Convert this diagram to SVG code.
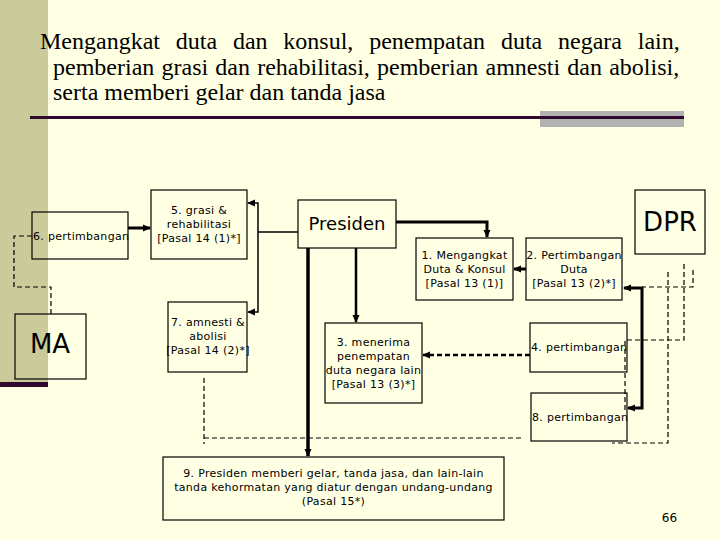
<svg xmlns="http://www.w3.org/2000/svg" width="720" height="540" viewBox="0 0 720 540">
<style>
.title{font-family:"Liberation Serif","Times New Roman",serif;font-size:24px;fill:#000}
.box{fill:none;stroke:#000;stroke-width:1.2}
.t{font-family:"DejaVu Sans",Verdana,sans-serif;font-size:11px;letter-spacing:0.3px;fill:#000}
.c{text-anchor:middle}
.big{font-family:"DejaVu Sans",Verdana,sans-serif;fill:#000;text-anchor:middle}
.ln{fill:none;stroke:#000}
.dash{fill:none;stroke:#000;stroke-width:1.2;stroke-dasharray:5 3}
</style>
<defs>
<marker id="ah" markerUnits="userSpaceOnUse" markerWidth="8" markerHeight="8" refX="7" refY="4" orient="auto-start-reverse">
<path d="M0,0.5 L8,4 L0,7.5 z" fill="#000"/>
</marker>
</defs>
<rect x="0" y="0" width="720" height="540" fill="#FFFFE4"/>
<rect x="0" y="0" width="48" height="382" fill="#CBCA9A"/>
<rect x="0" y="382" width="48" height="5" fill="#2E0B2E"/>
<rect x="540" y="111" width="144" height="16" fill="#B2B2B2"/>
<line x1="30" y1="117.5" x2="684" y2="117.5" stroke="#2E0B2E" stroke-width="3"/>
<g id="title">
<text class="title" x="40" y="49" word-spacing="9.8">Mengangkat duta dan konsul, penempatan duta negara lain,</text>
<text class="title" x="53" y="75" word-spacing="1.2">pemberian grasi dan rehabilitasi, pemberian amnesti dan abolisi,</text>
<text class="title" x="53" y="100">serta memberi gelar dan tanda jasa</text>
</g>
<g id="connectors">
<path class="ln" stroke-width="3" d="M128,228 L150,228" marker-end="url(#ah)"/>
<path class="ln" stroke-width="1.5" d="M298,232 L258,232"/>
<path class="ln" stroke-width="1.5" d="M258,232 L258,203 L248,203" marker-end="url(#ah)"/>
<path class="ln" stroke-width="1.5" d="M258,232 L258,312 L248,312" marker-end="url(#ah)"/>
<path class="ln" stroke-width="3" d="M396,222 L487,222 L487,237" marker-end="url(#ah)"/>
<path class="ln" stroke-width="2.5" d="M356,248 L356,322" marker-end="url(#ah)"/>
<path class="ln" stroke-width="3.5" d="M308,248 L308,456" marker-end="url(#ah)"/>
<path class="ln" stroke-width="3" d="M526,269 L514,269" marker-end="url(#ah)"/>
<path class="ln" stroke-width="3" d="M624,288 L642,288 L642,408 L628,408" marker-start="url(#ah)" marker-end="url(#ah)"/>
<path class="ln" stroke-width="2.5" stroke-dasharray="5 3" d="M530,355 L423,355" marker-end="url(#ah)"/>
<path class="dash" d="M32,236 L14,236 L14,287 L51,287 L51,314"/>
<path class="dash" d="M204,378 L204,444"/>
<path class="dash" d="M204,438 L523,438"/>
<path class="dash" d="M684,264 L684,340 L625,340 L625,410"/>
<path class="dash" d="M693,270 L693,287 L642,287"/>
<path class="dash" d="M668,272 L668,443 L612,443"/>
</g>
<g id="n6">
<rect class="box" x="32" y="212" width="96" height="47"/>
<text class="t" x="33" y="240">6. pertimbangan</text>
</g>
<g id="nMA">
<rect class="box" x="15" y="314" width="71" height="65"/>
<text class="big" x="50" y="353" font-size="26">MA</text>
</g>
<g id="n5">
<rect class="box" x="151" y="190" width="96" height="69"/>
<text class="t c" x="199" y="214">5. grasi &amp;</text>
<text class="t c" x="199" y="228">rehabilitasi</text>
<text class="t c" x="199" y="242">[Pasal 14 (1)*]</text>
</g>
<g id="n7">
<rect class="box" x="168" y="302" width="79" height="70"/>
<text class="t c" x="208" y="326">7. amnesti &amp;</text>
<text class="t c" x="208" y="340">abolisi</text>
<text class="t c" x="208" y="354">[Pasal 14 (2)*]</text>
</g>
<g id="nPresiden">
<rect class="box" x="298" y="200" width="98" height="48"/>
<text class="big" x="347" y="230" font-size="18">Presiden</text>
</g>
<g id="nDPR">
<rect class="box" x="635" y="190" width="70" height="64"/>
<text class="big" x="670" y="231" font-size="26">DPR</text>
</g>
<g id="n1">
<rect class="box" x="416" y="238" width="97" height="62"/>
<text class="t c" x="464.5" y="259">1. Mengangkat</text>
<text class="t c" x="464.5" y="273">Duta &amp; Konsul</text>
<text class="t c" x="464.5" y="287">[Pasal 13 (1)]</text>
</g>
<g id="n2">
<rect class="box" x="526" y="238" width="96" height="62"/>
<text class="t c" x="574" y="259">2. Pertimbangan</text>
<text class="t c" x="574" y="273">Duta</text>
<text class="t c" x="574" y="287">[Pasal 13 (2)*]</text>
</g>
<g id="n3">
<rect class="box" x="325" y="323" width="97" height="80"/>
<text class="t c" x="373.5" y="346">3. menerima</text>
<text class="t c" x="373.5" y="360">penempatan</text>
<text class="t c" x="373.5" y="374">duta negara lain</text>
<text class="t c" x="373.5" y="388">[Pasal 13 (3)*]</text>
</g>
<g id="n4">
<rect class="box" x="530" y="323" width="97" height="49"/>
<text class="t" x="531" y="351">4. pertimbangan</text>
</g>
<g id="n8">
<rect class="box" x="531" y="393" width="96" height="48"/>
<text class="t" x="532" y="421">8. pertimbangan</text>
</g>
<g id="n9">
<rect class="box" x="163" y="457" width="341" height="63"/>
<text class="t c" x="333.5" y="477">9. Presiden memberi gelar, tanda jasa, dan lain-lain</text>
<text class="t c" x="333.5" y="491">tanda kehormatan yang diatur dengan undang-undang</text>
<text class="t c" x="333.5" y="505">(Pasal 15*)</text>
</g>
<text x="669.5" y="522" font-family="DejaVu Sans,Verdana,sans-serif" font-size="12" text-anchor="middle" fill="#000">66</text>
</svg>
